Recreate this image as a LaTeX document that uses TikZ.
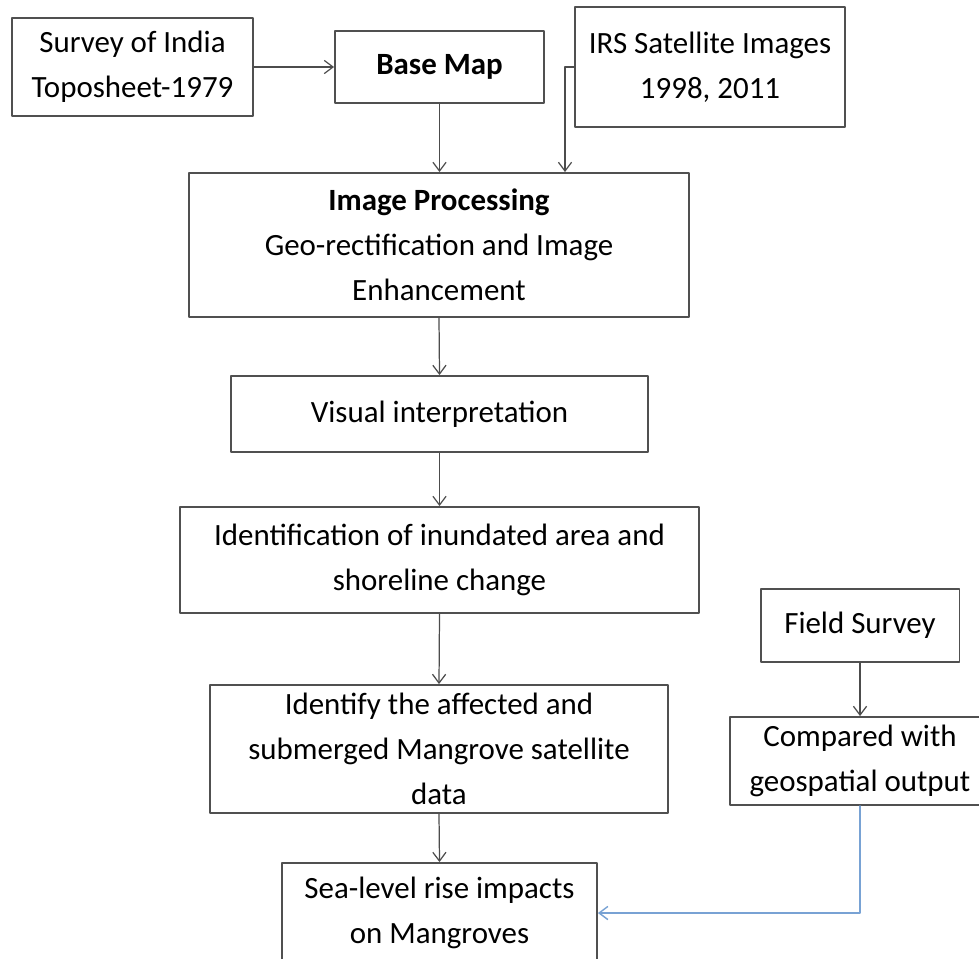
\documentclass[tikz,border=0pt]{standalone}
\usepackage{fontspec}
\setmainfont{Carlito}
\usetikzlibrary{arrows.meta}
\definecolor{boxgray}{RGB}{80,80,80}
\definecolor{feedblue}{RGB}{120,162,212}

\begin{document}
\begin{tikzpicture}[x=0.02cm,y=-0.02cm,line cap=round,line join=round,
  font=\fontsize{17.6}{25.6}\selectfont,
  flowbox/.style={draw=boxgray,line width=1.1pt,fill=white,align=center,inner sep=2pt},
  flowarr/.style={-{Straight Barb[length=5pt,width=7.5pt]},black!70,line width=0.7pt},
  feedarr/.style={-{Straight Barb[length=5pt,width=7.5pt]},feedblue,line width=0.8pt}]
\useasboundingbox (0,0) rectangle (979,958);
% top row: sources
\node[flowbox,minimum width=4.82cm,minimum height=1.96cm] (survey) at (132.5,67) {Survey of India\\Toposheet-1979};
\node[flowbox,minimum width=4.18cm,minimum height=1.44cm] (basemap) at (439.5,67) {\textbf{Base Map}};
\node[flowbox,minimum width=5.4cm,minimum height=2.4cm] (irs) at (710,67) {IRS Satellite Images\\1998, 2011};
% main chain
\node[flowbox,minimum width=10cm,minimum height=2.88cm] (improc) at (439,245) {\textbf{Image Processing}\\Geo-rectification and Image\\Enhancement};
\node[flowbox,minimum width=8.34cm,minimum height=1.52cm] (visual) at (439.5,414) {Visual interpretation};
\node[flowbox,minimum width=10.38cm,minimum height=2.12cm] (ident) at (439.5,560) {Identification of inundated area and\\shoreline change};
\node[flowbox,minimum width=9.16cm,minimum height=2.56cm] (affected) at (439,749) {Identify the affected and\\submerged Mangrove satellite\\data};
\node[flowbox,minimum width=6.3cm,minimum height=2.0cm] (impact) at (439.5,913) {Sea-level rise impacts\\on Mangroves};
% field branch
\node[flowbox,minimum width=3.98cm,minimum height=1.46cm] (field) at (860,625.5) {Field Survey};
\node[flowbox,minimum width=5.2cm,minimum height=1.76cm] (compared) at (860,761) {Compared with\\geospatial output};
\coordinate (irsbend) at (565,67);
% connectors
\draw[flowarr] (survey.east) -- (basemap.west);
\draw[flowarr] (basemap.south) -- (improc.north -| basemap.south);
\draw[flowarr] (irs.west) -- (irsbend) -- (irsbend |- improc.north);
\draw[flowarr] (improc.south) -- (visual.north);
\draw[flowarr] (visual.south) -- (ident.north);
\draw[flowarr] (ident.south) -- (affected.north);
\draw[flowarr] (affected.south) -- (impact.north);
\draw[flowarr] (field.south) -- (compared.north);
\draw[feedarr] (compared.south) |- (impact.east);
\end{tikzpicture}
\end{document}
